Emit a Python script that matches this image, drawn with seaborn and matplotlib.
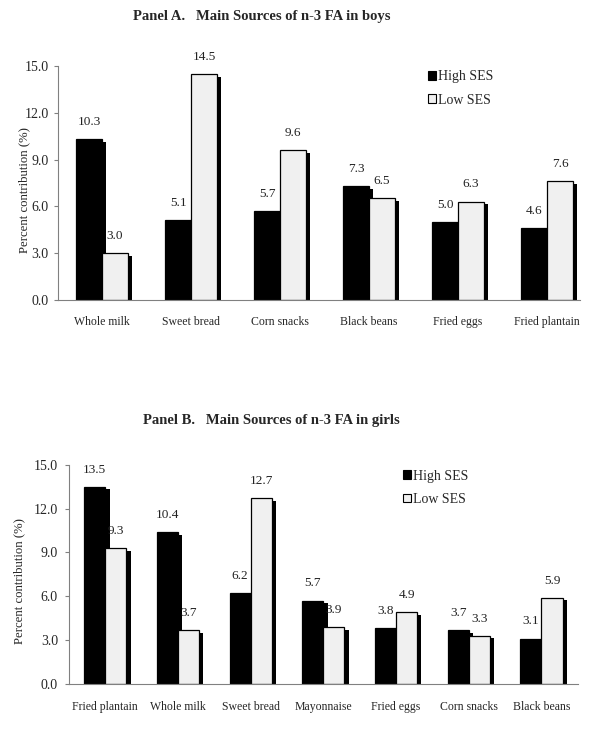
import pandas as pd
import numpy as np
import matplotlib.pyplot as plt
import matplotlib.patheffects as pe
import seaborn as sns

# Panel A - boys
boys_foods = ['Whole milk', 'Sweet bread', 'Corn snacks', 'Black beans', 'Fried eggs', 'Fried plantain']
boys_high = [10.3, 5.1, 5.7, 7.3, 5.0, 4.6]
boys_low = [3.0, 14.5, 9.6, 6.5, 6.3, 7.6]

# Panel B - girls
girls_foods = ['Fried plantain', 'Whole milk', 'Sweet bread', 'Mayonnaise', 'Fried eggs', 'Corn snacks', 'Black beans']
girls_high = [13.5, 10.4, 6.2, 5.7, 3.8, 3.7, 3.1]
girls_low = [9.3, 3.7, 12.7, 3.9, 4.9, 3.3, 5.9]

y_ticks = [0.0, 3.0, 6.0, 9.0, 12.0, 15.0]

sns.set_style('white')
plt.rcParams['font.family'] = ['Liberation Serif', 'DejaVu Serif']


def make_df(foods, high, low):
    return pd.DataFrame({
        'food': foods * 2,
        'ses': ['High SES'] * len(foods) + ['Low SES'] * len(foods),
        'value': high + low,
    })


def draw_panel(ax, foods, high, low, legend_pos, ylab_x, ypad, xend):
    df = make_df(foods, high, low)
    sns.barplot(data=df, x='food', y='value', hue='ses', ax=ax,
                palette={'High SES': 'black', 'Low SES': '#f0f0f0'},
                width=0.58, edgecolor='black', linewidth=0.9,
                order=foods, hue_order=['High SES', 'Low SES'])
    # drop shadow like the original spreadsheet chart
    shadow = [pe.SimplePatchShadow(offset=(3, -2), shadow_rgbFace='black', alpha=1.0), pe.Normal()]
    for p in ax.patches:
        p.set_path_effects(shadow)
    for cont in ax.containers:
        ax.bar_label(cont, fmt='%.1f', padding=8, fontsize=9.5, color='#222222')
    ax.set_ylim(0, 15)
    ax.set_xlim(-0.5, len(foods) - 0.5)
    ax.set_yticks(y_ticks)
    ax.set_yticklabels([f'{t:.1f}' for t in y_ticks], fontsize=10)
    ax.set_xticks(range(len(foods)))
    ax.set_xticklabels(foods, fontsize=8.5)
    ax.set_xticks(np.arange(-0.5, xend), minor=True)
    ax.tick_params(axis='x', which='major', length=0, pad=12)
    ax.tick_params(axis='x', which='minor', length=4, color='#808080', direction='out')
    ax.tick_params(axis='y', length=3, color='#808080', direction='out', left=True, pad=ypad)
    ax.set_xlabel('')
    ax.set_ylabel('Percent contribution (%)', fontsize=9.2)
    ax.yaxis.set_label_coords(ylab_x, 0.47)
    for s in ['top', 'right']:
        ax.spines[s].set_visible(False)
    for s in ['left', 'bottom']:
        ax.spines[s].set_color('#808080')
        ax.spines[s].set_linewidth(0.8)
    ax.spines['bottom'].set_bounds(-0.5, xend)
    leg = ax.legend(loc='upper left', bbox_to_anchor=legend_pos, frameon=False,
                    fontsize=10, handlelength=0.6, handleheight=0.6, handletextpad=0.15,
                    labelspacing=0.75)
    for h in leg.legend_handles:
        h.set_path_effects([])
        h.set_linewidth(0.8)


fig = plt.figure(figsize=(6, 7.33), dpi=100)
ax1 = fig.add_axes([0.096, 0.591, 0.89, 0.319])
ax2 = fig.add_axes([0.115, 0.067, 0.848, 0.299])

draw_panel(ax1, boys_foods, boys_high, boys_low, (0.67, 1.035), -0.052, 3.5, 5.37)
draw_panel(ax2, girls_foods, girls_high, girls_low, (0.632, 1.035), -0.085, 5, 6.5)

fig.text(0.437, 0.977, 'Panel A.   Main Sources of n-3 FA in boys',
         ha='center', va='center', fontsize=10.5, fontweight='bold')
fig.text(0.453, 0.427, 'Panel B.   Main Sources of n-3 FA in girls',
         ha='center', va='center', fontsize=10.5, fontweight='bold')

fig.savefig('out.png', dpi=100)
